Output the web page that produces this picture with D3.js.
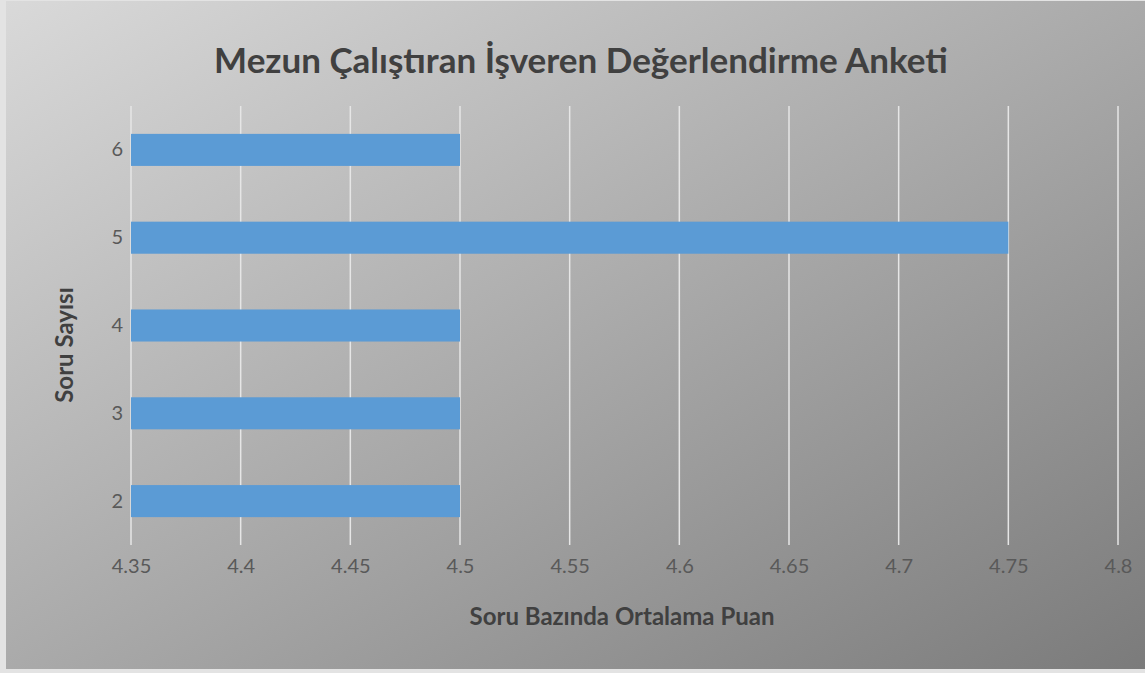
<!DOCTYPE html>
<html>
<head>
<meta charset="utf-8">
<script src="https://cdn.jsdelivr.net/npm/d3@7"></script>
<style>
  body { margin: 0; background: #e3e3e3; }
  svg { display: block; font-family: Lato, "Open Sans", sans-serif; }
</style>
</head>
<body>
<svg id="chart"></svg>
<script>
// Chart data
const categories = ["2", "3", "4", "5", "6"];
const values = [4.5, 4.5, 4.5, 4.75, 4.5];
const xTicks = [4.35, 4.4, 4.45, 4.5, 4.55, 4.6, 4.65, 4.7, 4.75, 4.8];
const titleText = "Mezun Çalıştıran İşveren Değerlendirme Anketi";
const xLabel = "Soru Bazında Ortalama Puan";
const yLabel = "Soru Sayısı";

const W = 1145, H = 673;
const margin = { top: 106, right: 27, bottom: 128, left: 131 };
const width = W - margin.left - margin.right;
const height = H - margin.top - margin.bottom;

const root = d3.select("#chart").attr("width", W).attr("height", H);

// background gradient
const defs = root.append("defs");
const grad = defs.append("linearGradient")
    .attr("id", "bg")
    .attr("x1", "0").attr("y1", "0").attr("x2", "1").attr("y2", "1");
grad.append("stop").attr("offset", "0%").attr("stop-color", "#d9d9d9");
grad.append("stop").attr("offset", "100%").attr("stop-color", "#7b7b7b");

root.append("rect")
    .attr("x", 6).attr("y", 1)
    .attr("width", W - 6).attr("height", 668)
    .attr("fill", "url(#bg)");

const svg = root.append("g")
    .attr("transform", `translate(${margin.left},${margin.top})`);

// scales
const x = d3.scaleLinear().domain([4.35, 4.8]).range([0, width]);
const y = d3.scaleBand()
    .domain(categories.slice().reverse())
    .range([0, height])
    .paddingInner(0.635)
    .paddingOuter(0.3175);

// gridlines
svg.selectAll(".grid")
    .data(xTicks)
    .enter()
    .append("line")
    .attr("class", "grid")
    .attr("x1", d => x(d)).attr("x2", d => x(d))
    .attr("y1", 0).attr("y2", height)
    .attr("stroke", "#e6e6e6")
    .attr("stroke-width", 1.5);

// bars
svg.selectAll(".bar")
    .data(categories.map((c, i) => ({ c, v: values[i] })))
    .enter()
    .append("rect")
    .attr("class", "bar")
    .attr("x", x(4.35))
    .attr("y", d => y(d.c))
    .attr("width", d => x(d.v) - x(4.35))
    .attr("height", y.bandwidth())
    .attr("fill", "#5b9bd5");

// x axis
const xAxis = svg.append("g")
    .attr("transform", `translate(0,${height})`)
    .call(d3.axisBottom(x).tickValues(xTicks).tickSize(0).tickPadding(14).tickFormat(d => String(+d.toFixed(2))));
xAxis.attr("font-family", null);
xAxis.select(".domain").remove();
xAxis.selectAll("text")
    .style("font-size", "20px")
    .style("fill", "#595959");

// y axis
const yAxis = svg.append("g")
    .call(d3.axisLeft(y).tickSize(0).tickPadding(8));
yAxis.attr("font-family", null);
yAxis.select(".domain").remove();
yAxis.selectAll("text")
    .style("font-size", "20px")
    .style("fill", "#595959");

// title
root.append("text")
    .attr("x", 581).attr("y", 73)
    .attr("text-anchor", "middle")
    .style("font-size", "35px")
    .style("font-weight", "bold")
    .style("fill", "#404040")
    .text(titleText);

// axis labels
root.append("text")
    .attr("x", 622).attr("y", 625)
    .attr("text-anchor", "middle")
    .style("font-size", "24px")
    .style("font-weight", "bold")
    .style("fill", "#404040")
    .text(xLabel);

root.append("text")
    .attr("transform", "translate(73,345) rotate(-90)")
    .attr("text-anchor", "middle")
    .style("font-size", "24px")
    .style("font-weight", "bold")
    .style("fill", "#404040")
    .text(yLabel);
</script>
</body>
</html>
